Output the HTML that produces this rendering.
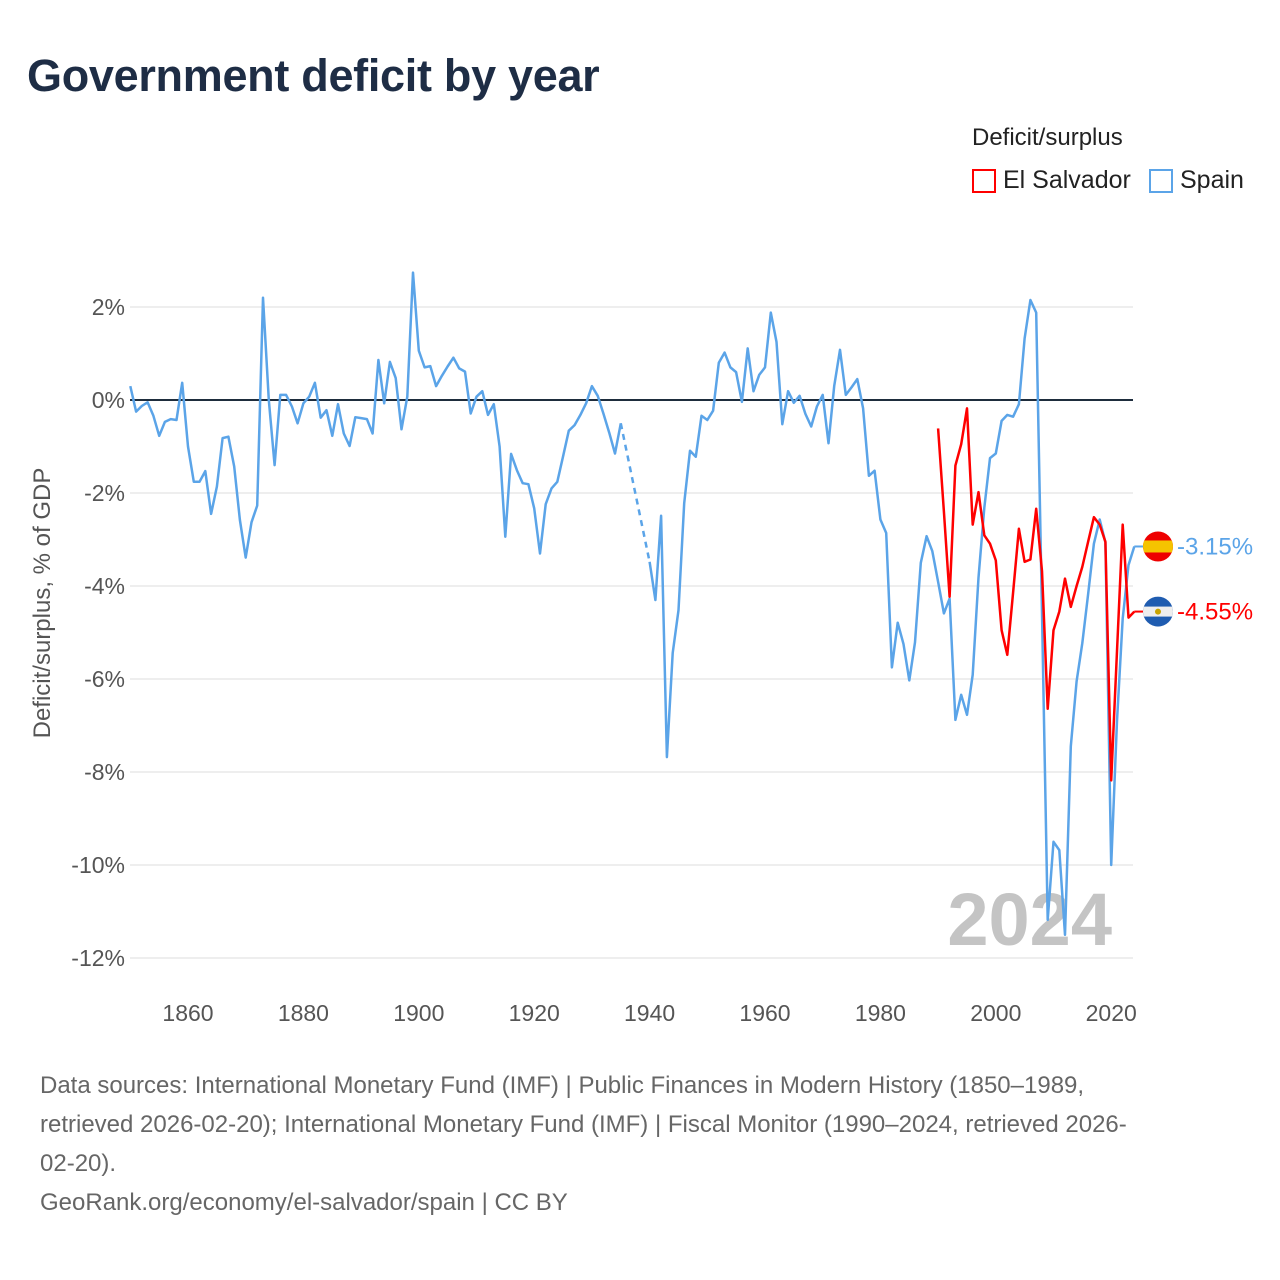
<!DOCTYPE html>
<html><head><meta charset="utf-8">
<style>
html,body{margin:0;padding:0;background:#fff;width:1280px;height:1280px;overflow:hidden;font-family:"Liberation Sans",sans-serif;}
#title{position:absolute;left:27px;top:50px;font-size:45px;font-weight:bold;color:#1e2d45;margin:0;letter-spacing:-0.3px}
#legend-title{position:absolute;left:972px;top:124px;font-size:24px;color:#222}
.leg{position:absolute;top:166px;font-size:25px;color:#222;display:flex;align-items:center}
.leg span.box{display:inline-block;width:24px;height:24px;border:2px solid;margin-right:7px;box-sizing:border-box}
#footer{position:absolute;left:40px;top:1066px;font-size:24px;line-height:39px;color:#666;width:1230px;white-space:nowrap}
svg{position:absolute;left:0;top:0}
</style></head><body>
<h1 id="title">Government deficit by year</h1>
<div id="legend-title">Deficit/surplus</div>
<div class="leg" style="left:972px"><span class="box" style="border-color:#f00"></span>El Salvador</div>
<div class="leg" style="left:1149px"><span class="box" style="border-color:#5ba4e8"></span>Spain</div>
<svg id="chart" width="1280" height="1280"></svg>
<div id="footer">Data sources: International Monetary Fund (IMF) | Public Finances in Modern History (1850–1989,<br>retrieved 2026-02-20); International Monetary Fund (IMF) | Fiscal Monitor (1990–2024, retrieved 2026-<br>02-20).<br>GeoRank.org/economy/el-salvador/spain | CC BY</div>
<script>
const yTicks=[2,0,-2,-4,-6,-8,-10,-12];
const xTicks=[1860,1880,1900,1920,1940,1960,1980,2000,2020];
const spainYears1=[1850,1851,1852,1853,1854,1855,1856,1857,1858,1859,1860,1861,1862,1863,1864,1865,1866,1867,1868,1869,1870,1871,1872,1873,1874,1875,1876,1877,1878,1879,1880,1881,1882,1883,1884,1885,1886,1887,1888,1889,1890,1891,1892,1893,1894,1895,1896,1897,1898,1899,1900,1901,1902,1903,1904,1905,1906,1907,1908,1909,1910,1911,1912,1913,1914,1915,1916,1917,1918,1919,1920,1921,1922,1923,1924,1925,1926,1927,1928,1929,1930,1931,1932,1933,1934,1935];
const spainValues1=[0.30,-0.25,-0.13,-0.05,-0.34,-0.77,-0.47,-0.41,-0.43,0.37,-1.0,-1.76,-1.76,-1.53,-2.45,-1.86,-0.82,-0.79,-1.43,-2.58,-3.39,-2.63,-2.27,2.2,0.0,-1.40,0.11,0.11,-0.14,-0.5,-0.07,0.07,0.37,-0.38,-0.22,-0.77,-0.09,-0.72,-0.99,-0.37,-0.39,-0.41,-0.72,0.86,-0.07,0.82,0.47,-0.63,0.07,2.74,1.06,0.70,0.73,0.30,0.52,0.72,0.91,0.68,0.61,-0.29,0.07,0.19,-0.32,-0.09,-1.0,-2.94,-1.16,-1.51,-1.79,-1.81,-2.33,-3.30,-2.24,-1.90,-1.76,-1.22,-0.66,-0.54,-0.32,-0.07,0.30,0.09,-0.29,-0.70,-1.15,-0.50];
const spainYears2=[1940,1941,1942,1943,1944,1945,1946,1947,1948,1949,1950,1951,1952,1953,1954,1955,1956,1957,1958,1959,1960,1961,1962,1963,1964,1965,1966,1967,1968,1969,1970,1971,1972,1973,1974,1975,1976,1977,1978,1979,1980,1981,1982,1983,1984,1985,1986,1987,1988,1989,1990,1991,1992,1993,1994,1995,1996,1997,1998,1999,2000,2001,2002,2003,2004,2005,2006,2007,2008,2009,2010,2011,2012,2013,2014,2015,2016,2017,2018,2019,2020,2021,2022,2023,2024];
const spainValues2=[-3.48,-4.30,-2.49,-7.68,-5.44,-4.52,-2.22,-1.09,-1.22,-0.34,-0.43,-0.23,0.80,1.02,0.70,0.60,-0.04,1.11,0.19,0.54,0.70,1.88,1.25,-0.52,0.19,-0.06,0.09,-0.30,-0.57,-0.14,0.11,-0.93,0.30,1.08,0.11,0.27,0.45,-0.18,-1.63,-1.52,-2.57,-2.86,-5.75,-4.79,-5.25,-6.03,-5.21,-3.5,-2.93,-3.25,-3.91,-4.59,-4.27,-6.88,-6.34,-6.77,-5.91,-3.82,-2.32,-1.25,-1.15,-0.45,-0.32,-0.36,-0.09,1.32,2.15,1.88,-4.57,-11.18,-9.5,-9.68,-11.5,-7.45,-6.05,-5.23,-4.18,-3.09,-2.57,-3.06,-10.0,-6.9,-4.7,-3.55,-3.15];
const esYears=[1990,1991,1992,1993,1994,1995,1996,1997,1998,1999,2000,2001,2002,2003,2004,2005,2006,2007,2008,2009,2010,2011,2012,2013,2014,2015,2016,2017,2018,2019,2020,2021,2022,2023,2024];
const esValues=[-0.61,-2.4,-4.23,-1.41,-0.95,-0.18,-2.68,-1.98,-2.91,-3.09,-3.45,-4.95,-5.48,-4.14,-2.77,-3.48,-3.43,-2.34,-3.68,-6.64,-4.95,-4.55,-3.84,-4.45,-4.0,-3.59,-3.05,-2.52,-2.68,-3.05,-8.18,-5.4,-2.68,-4.68,-4.55];

const X0=130.3,XS=5.77,Y0=400,YS=46.5;
function xs(y){return X0+(y-1850)*XS;}
function ys(v){return Y0-v*YS;}
const svg=document.getElementById('chart');
const NS='http://www.w3.org/2000/svg';
function mk(tag,attrs){const e=document.createElementNS(NS,tag);for(const k in attrs)e.setAttribute(k,attrs[k]);svg.appendChild(e);return e;}

yTicks.forEach(t=>{
  if(t!==0){const g=mk('line',{x1:130,x2:1133,y1:ys(t),y2:ys(t),stroke:'#e8e8e8','stroke-width':1.5});
  
  }
  const l=mk('text',{x:125,y:ys(t)+8,'text-anchor':'end','font-size':23,fill:'#555','font-family':'Liberation Sans, sans-serif'});
  l.textContent=t+'%';
  
  
});
xTicks.forEach(t=>{
  const l=mk('text',{x:xs(t),y:1021,'text-anchor':'middle','font-size':23,fill:'#555','font-family':'Liberation Sans, sans-serif'});
  l.textContent=t;
  
  
});
const yt=mk('text',{x:0,y:0,transform:'translate(50,603) rotate(-90)','text-anchor':'middle','font-size':24,fill:'#555','font-family':'Liberation Sans, sans-serif'});
yt.textContent='Deficit/surplus, % of GDP';



const wm=mk('text',{x:1112,y:945,'text-anchor':'end','font-size':74,'font-weight':'bold',fill:'#c4c4c4','font-family':'Liberation Sans, sans-serif'});
wm.textContent='2024';



const zl=mk('line',{x1:130,x2:1133,y1:ys(0),y2:ys(0),stroke:'#1e2d3d','stroke-width':2});



function pts(ys_,vs){return ys_.map((y,i)=>xs(y).toFixed(1)+','+ys(vs[i]).toFixed(1)).join(' ');}
const s1=mk('polyline',{points:pts(spainYears1,spainValues1),fill:'none',stroke:'#5ba4e8','stroke-width':2.5,'stroke-linejoin':'round'});


const gap=mk('line',{x1:xs(spainYears1[spainYears1.length-1]),y1:ys(spainValues1[spainValues1.length-1]),x2:xs(spainYears2[0]),y2:ys(spainValues2[0]),stroke:'#5ba4e8','stroke-width':2.5,'stroke-dasharray':'6,5'});


const s2=mk('polyline',{points:pts(spainYears2,spainValues2),fill:'none',stroke:'#5ba4e8','stroke-width':2.5,'stroke-linejoin':'round'});


const r=mk('polyline',{points:pts(esYears,esValues),fill:'none',stroke:'#ff0000','stroke-width':2.5,'stroke-linejoin':'round'});



const spLast=spainValues2[spainValues2.length-1], esLast=esValues[esValues.length-1];
const ex=xs(2024);
const c1=mk('polyline',{points:`${ex},${ys(spLast)} 1143,${ys(spLast)}`,fill:'none',stroke:'#5ba4e8','stroke-width':2});


const c2=mk('polyline',{points:`${ex},${ys(esLast)} 1143,${ys(esLast)}`,fill:'none',stroke:'#f00','stroke-width':2});



const fy1=ys(spLast), fy2=ys(esLast);
const defs=mk('defs',{});
defs.innerHTML='<clipPath id="cf1"><circle cx="1158" cy="'+fy1+'" r="15"/></clipPath><clipPath id="cf2"><circle cx="1158" cy="'+fy2+'" r="15"/></clipPath>';
const f1=mk('g',{'clip-path':'url(#cf1)'});


f1.innerHTML='<rect x="1143" y="'+(fy1-15)+'" width="30" height="30" fill="#e00"/><rect x="1143" y="'+(fy1-6)+'" width="30" height="12" fill="#f5c400"/>';
const f2=mk('g',{'clip-path':'url(#cf2)'});


f2.innerHTML='<rect x="1143" y="'+(fy2-15)+'" width="30" height="30" fill="#1f5cb0"/><rect x="1143" y="'+(fy2-5)+'" width="30" height="10" fill="#eee"/><circle cx="1158" cy="'+fy2+'" r="3" fill="#c9a400"/>';
const l1=mk('text',{x:1177,y:fy1+8,'font-size':24,fill:'#5ba4e8','font-family':'Liberation Sans, sans-serif'});
l1.textContent=spLast.toFixed(2)+'%';


const l2=mk('text',{x:1177,y:fy2+8,'font-size':24,fill:'#f00','font-family':'Liberation Sans, sans-serif'});
l2.textContent=esLast.toFixed(2)+'%';


</script>
</body></html>
